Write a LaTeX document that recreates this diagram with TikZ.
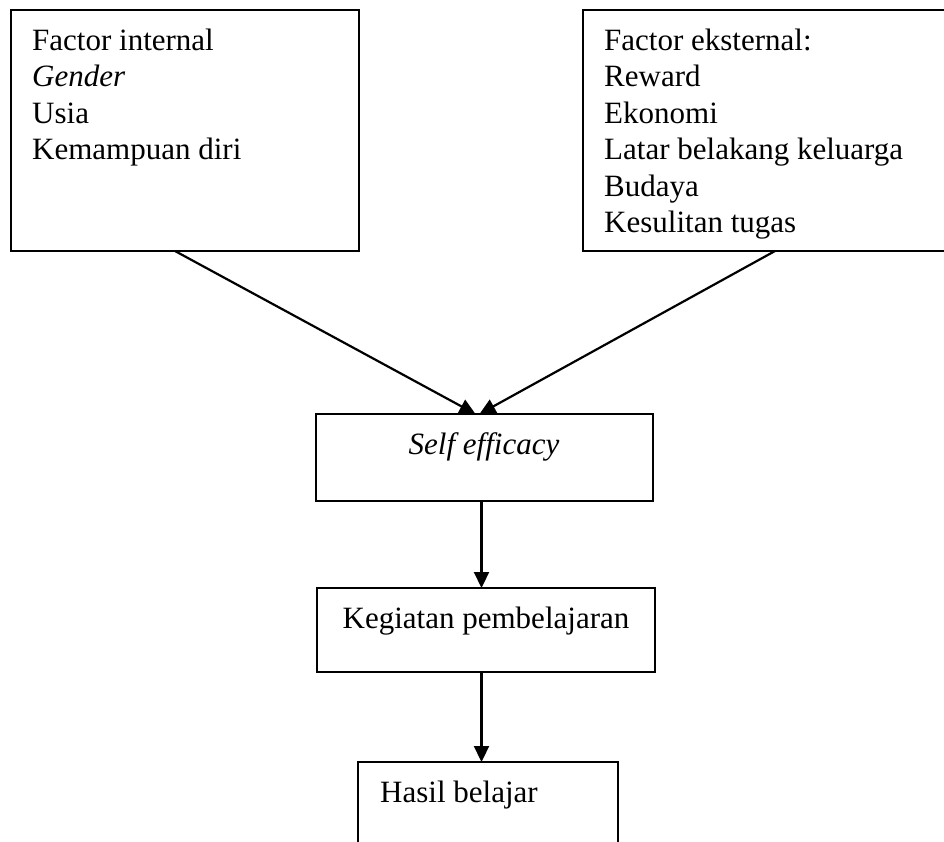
\documentclass[tikz,border=0pt]{standalone}
\usepackage{fontspec}
\setmainfont{Liberation Serif}
\usetikzlibrary{arrows.meta}
\tikzset{
    box/.style={draw, line width=2.2pt, inner sep=0pt, outer sep=0pt, anchor=north west},
    txt/.style={inner sep=0pt, font=\fontsize{31}{36.5}\selectfont},
    arr/.style={line width=2.2pt, -{Triangle[length=16pt,width=15pt]}}
}
\begin{document}
\begin{tikzpicture}[x=1pt, y=-1pt]
    \useasboundingbox (0,0) rectangle (944,841);
    \clip (0,0) rectangle (944,841);
    % boxes
    \node[box, minimum width=348pt, minimum height=241pt] (intl) at (11,10) {};
    \node[box, minimum width=384pt, minimum height=241pt] (extl) at (583,10) {};
    \node[box, minimum width=337pt, minimum height=87pt] (self) at (316,414) {};
    \node[box, minimum width=338pt, minimum height=84pt] (keg) at (317,588) {};
    \node[box, minimum width=260pt, minimum height=120pt] (hasil) at (358,762) {};
    % texts
    \foreach \t [count=\i] in {Factor internal, \textit{Gender}, Usia, Kemampuan diri}
        \node[txt, anchor=base west] (in\i) at (32, {50+36.5*(\i-1)}) {\t};
    \foreach \t [count=\i] in {Factor eksternal:, Reward, Ekonomi, Latar belakang keluarga, Budaya, Kesulitan tugas}
        \node[txt, anchor=base west] (ex\i) at (604, {50+36.5*(\i-1)}) {\t};
    \node[txt, anchor=base] (selft) at (484,454) {\textit{Self efficacy}};
    \node[txt, anchor=base] (kegt) at (486,628) {Kegiatan pembelajaran};
    \node[txt, anchor=base west] (hasilt) at (380,802) {Hasil belajar};
    % arrows
    \draw[arr] ([xshift=-10pt]intl.south) -- ([xshift=-9pt]self.north);
    \draw[arr] (extl.south) -- ([xshift=-5pt]self.north);
    \draw[arr] ([xshift=-3pt]self.south) -- ([xshift=-3pt]self.south |- keg.north);
    \draw[arr] ([xshift=-3pt]self.south |- keg.south) -- ([xshift=-3pt]self.south |- hasil.north);
\end{tikzpicture}
\end{document}
